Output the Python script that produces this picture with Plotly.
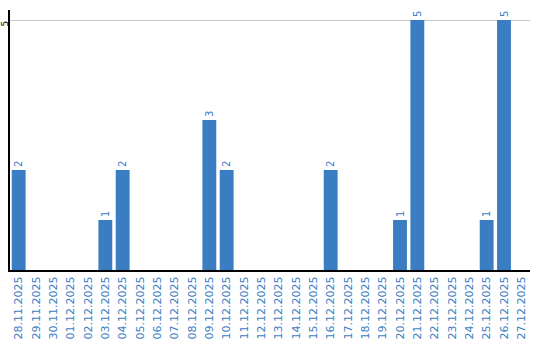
import plotly.graph_objects as go

dates = ["28.11.2025", "29.11.2025", "30.11.2025", "01.12.2025", "02.12.2025", "03.12.2025",
         "04.12.2025", "05.12.2025", "06.12.2025", "07.12.2025", "08.12.2025", "09.12.2025",
         "10.12.2025", "11.12.2025", "12.12.2025", "13.12.2025", "14.12.2025", "15.12.2025",
         "16.12.2025", "17.12.2025", "18.12.2025", "19.12.2025", "20.12.2025", "21.12.2025",
         "22.12.2025", "23.12.2025", "24.12.2025", "25.12.2025", "26.12.2025", "27.12.2025"]
counts = [2, 0, 0, 0, 0, 1, 2, 0, 0, 0, 0, 3, 2, 0, 0, 0, 0, 0, 2, 0, 0, 0, 1, 5, 0, 0, 0, 1, 5, 0]

BLUE = "#3a7dc3"
labels = [str(v) if v > 0 else "" for v in counts]

fig = go.Figure(go.Bar(
    x=dates, y=counts, marker_color=BLUE, marker_line_width=0,
    text=labels, textposition="outside", textangle=-90,
    textfont=dict(family="DejaVu Sans", size=10, color=BLUE),
    cliponaxis=False,
))
fig.update_layout(
    width=540, height=340, margin=dict(l=10, r=10, t=10, b=70),
    paper_bgcolor="white", plot_bgcolor="white", bargap=0.2, showlegend=False,
    font=dict(family="DejaVu Sans", size=10),
)
fig.update_xaxes(type="category", tickangle=-90, tickfont=dict(family="DejaVu Sans", color=BLUE, size=11),
                 showline=True, linecolor="black", linewidth=2, showgrid=False,
                 ticks="", ticklen=0, automargin=False)
fig.update_yaxes(range=[0, 5.2], tickvals=[5], ticktext=["5"], tickangle=-90,
                 tickfont=dict(family="DejaVu Sans", color="black", size=9),
                 showline=True, linecolor="black", linewidth=2,
                 showgrid=True, gridcolor="#c8c8c8", gridwidth=1, zeroline=False,
                 ticks="", ticklen=0, automargin=False, ticklabelstandoff=-4,
                 ticklabelshift=5)
fig.write_html("out.html")
